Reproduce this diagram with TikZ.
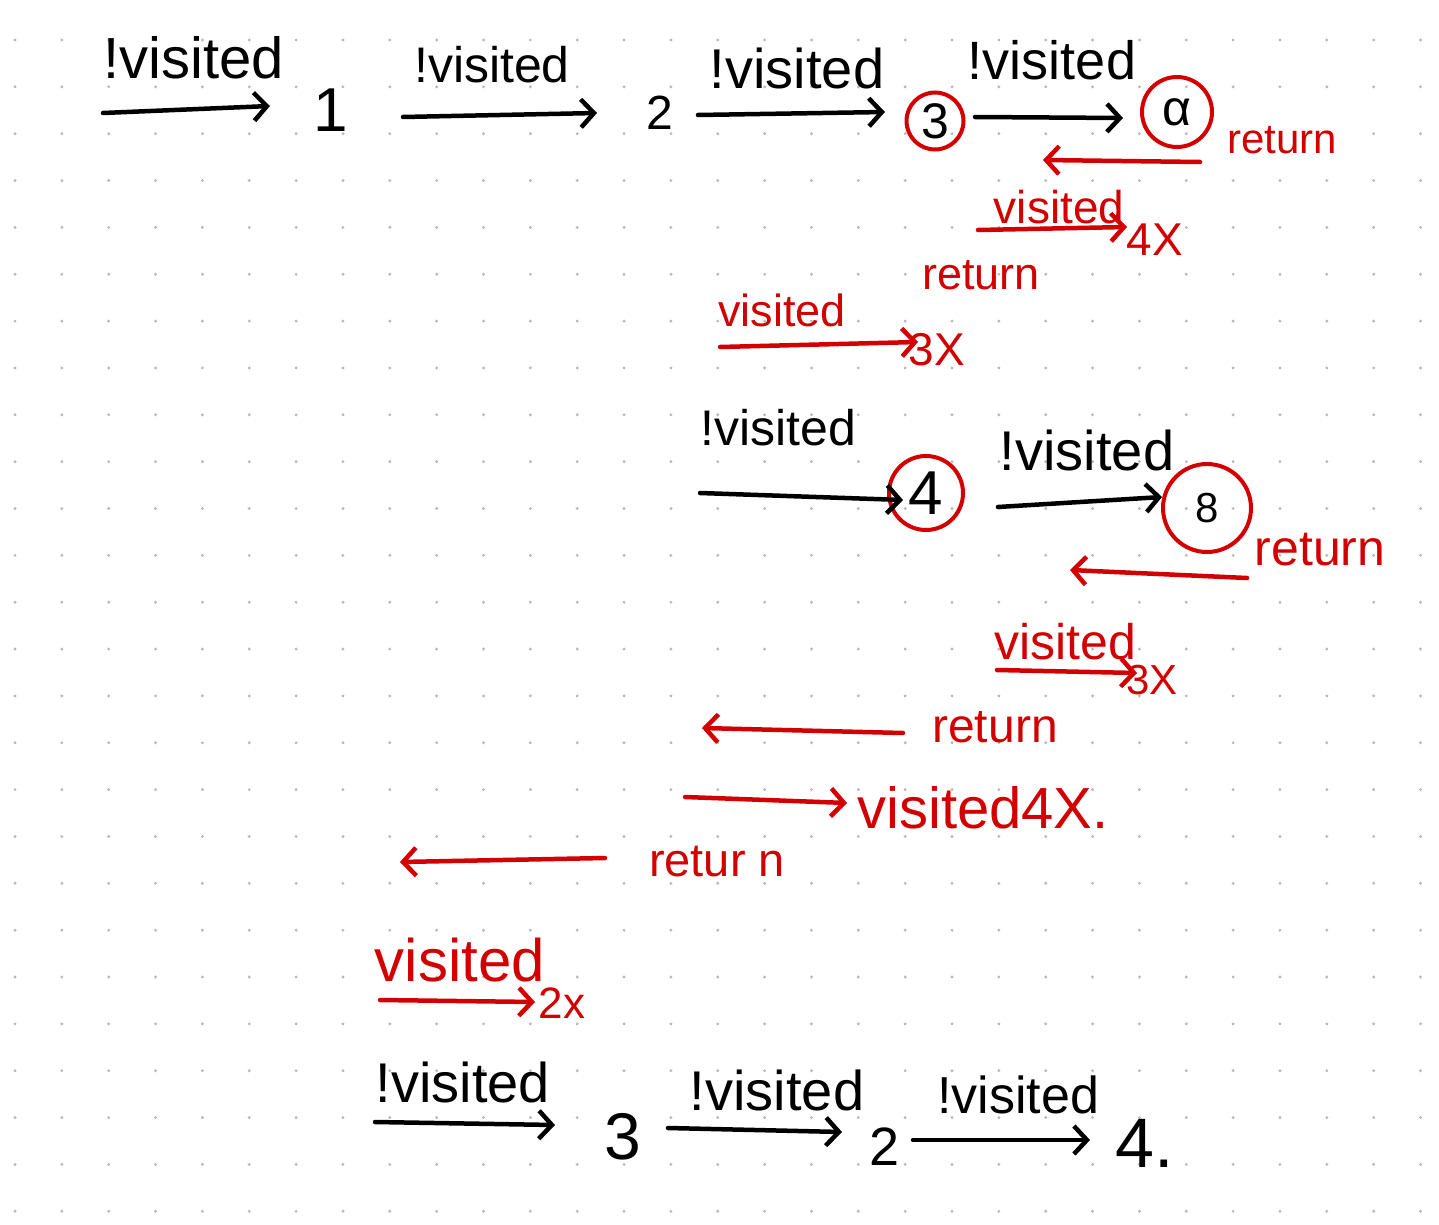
\documentclass[tikz,border=0pt]{standalone}
\usepackage{fontspec}
\setmainfont{Liberation Sans}
\usetikzlibrary{arrows.meta}
\definecolor{inkred}{RGB}{210,0,0}
\definecolor{dotgray}{RGB}{185,185,185}
\begin{document}
\begin{tikzpicture}[x=1pt,y=-1pt,
  ink/.style={line width=4.5pt, line cap=round, line join=round,
    -{Straight Barb[length=13pt,width=28pt,line width=4.5pt]}},
  blk/.style={ink, draw=black},
  rd/.style={ink, draw=inkred},
  lab/.style={inner sep=0pt, text=black, font=\fontsize{#1}{#1}\selectfont},
  rlab/.style={inner sep=0pt, text=inkred, font=\fontsize{#1}{#1}\selectfont},
  ring/.style={circle, draw=inkred, line width=4pt, inner sep=0pt, text=black, minimum size=#1}
]
\useasboundingbox (0,0) rectangle (1439,1225);
\fill[white] (0,0) rectangle (1439,1225);
% dot grid
\foreach \i in {0,...,30}{
  \foreach \j in {0,...,25}{
    \fill[dotgray] (15+46.85*\i, 40+46.85*\j) circle (1.6);
  }
}
% ---------- row 1 (black) ----------
\node[lab=58] (v1) at (194,58) {!visited};
\node[lab=50] (v2) at (492,65) {!visited};
\node[lab=56] (v3) at (797,68) {!visited};
\node[lab=54] (v4) at (1052,60) {!visited};
\node[lab=62] (n1) at (331,110) {1};
\node[lab=48] (n2) at (660,113) {2};
\node[ring=57, font=\fontsize{50}{50}\selectfont] (n3) at (935,121) {3};
\node[ring=70, font=\fontsize{50}{50}\selectfont] (na) at (1177,112) {α};
\coordinate (a1s) at (103,113); \coordinate (a1e) at (270,106);
\coordinate (a2s) at (403,117); \coordinate (a2e) at (597,113);
\coordinate (a3s) at (698,115); \coordinate (a3e) at (885,112);
\coordinate (a4s) at (975,117); \coordinate (a4e) at (1123,118);
\draw[blk] (a1s) -- (a1e);
\draw[blk] (a2s) -- (a2e);
\draw[blk] (a3s) -- (a3e);
\draw[blk] (a4s) -- (a4e);
% ---------- red trace 1 ----------
\node[rlab=42] (t1) at (1282,140) {return};
\coordinate (r1s) at (1200,162); \coordinate (r1e) at (1043,160);
\draw[rd] (r1s) -- (r1e);
\node[rlab=46] (rv1) at (1059,207) {visited};
\coordinate (r2s) at (978,230); \coordinate (r2e) at (1127,227);
\draw[rd] (r2s) -- (r2e);
\node[rlab=46] (x1) at (1155,240) {4X};
\node[rlab=45] (t2) at (981,275) {return};
\node[rlab=45] (rv2) at (782,310) {visited};
\coordinate (r3s) at (720,347); \coordinate (r3e) at (918,342);
\draw[rd] (r3s) -- (r3e);
\node[rlab=46] (x2) at (937,350) {3X};
% ---------- row 2 (black) ----------
\node[lab=50] (v5) at (778,428) {!visited};
\node[lab=56] (v6) at (1087,450) {!visited};
\node[ring=74, font=\fontsize{62}{62}\selectfont] (n4) at (926,493) {4};
\node[ring=88, font=\fontsize{42}{42}\selectfont] (n8) at (1207,508) {8};
\coordinate (a5s) at (700,493); \coordinate (a5e) at (903,500);
\coordinate (a6s) at (998,507); \coordinate (a6e) at (1162,497);
\draw[blk] (a5s) -- (a5e);
\draw[blk] (a6s) -- (a6e);
% ---------- red trace 2 ----------
\node[rlab=50] (t3) at (1320,550) {return};
\coordinate (r4s) at (1247,578); \coordinate (r4e) at (1070,570);
\draw[rd] (r4s) -- (r4e);
\node[rlab=50] (rv3) at (1065,642) {visited};
\coordinate (r5s) at (997,670); \coordinate (r5e) at (1137,673);
\draw[rd] (r5s) -- (r5e);
\node[rlab=42] (x3) at (1152,680) {3X};
\node[rlab=48] (t4) at (995,727) {return};
\coordinate (r6s) at (903,733); \coordinate (r6e) at (702,728);
\draw[rd] (r6s) -- (r6e);
\coordinate (r7s) at (685,797); \coordinate (r7e) at (847,803);
\draw[rd] (r7s) -- (r7e);
\node[rlab=58] (rv4) at (983,808) {visited4X.};
\node[rlab=47] (t5) at (717,862) {retur n};
\coordinate (r8s) at (605,858); \coordinate (r8e) at (400,862);
\draw[rd] (r8s) -- (r8e);
\node[rlab=60] (rv5) at (460,960) {visited};
\coordinate (r9s) at (380,1000); \coordinate (r9e) at (535,1002);
\draw[rd] (r9s) -- (r9e);
\node[rlab=44] (x4) at (562,1003) {2x};
% ---------- row 3 (black) ----------
\node[lab=56] (v7) at (463,1082) {!visited};
\node[lab=56] (v8) at (777,1090) {!visited};
\node[lab=52] (v9) at (1018,1095) {!visited};
\node[lab=66] (m3) at (623,1137) {3};
\node[lab=54] (m2) at (885,1147) {2};
\node[lab=70] (m4) at (1145,1143) {4.};
\coordinate (a7s) at (375,1122); \coordinate (a7e) at (555,1125);
\coordinate (a8s) at (668,1128); \coordinate (a8e) at (842,1132);
\coordinate (a9s) at (913,1140); \coordinate (a9e) at (1090,1140);
\draw[blk] (a7s) -- (a7e);
\draw[blk] (a8s) -- (a8e);
\draw[blk] (a9s) -- (a9e);
\end{tikzpicture}
\end{document}
